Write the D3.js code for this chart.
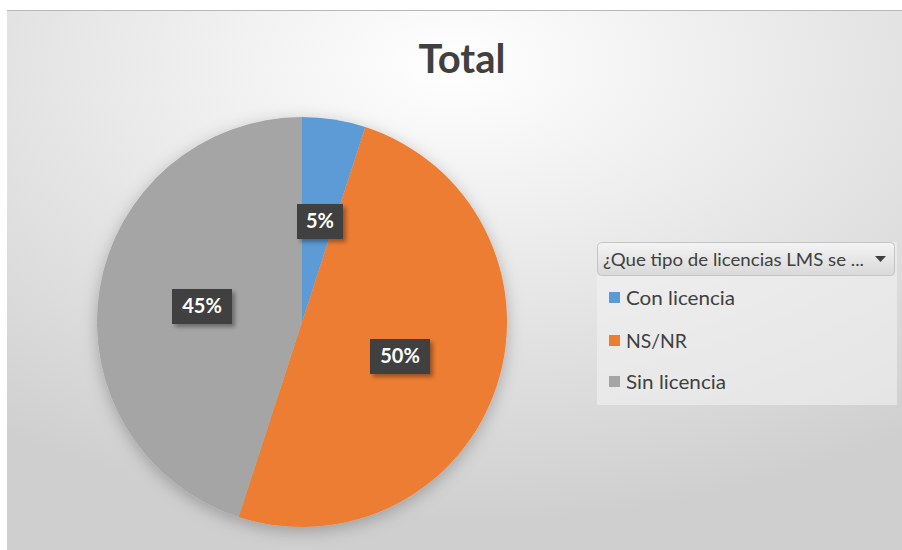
<!DOCTYPE html>
<html><head><meta charset="utf-8">
<script src="https://cdn.jsdelivr.net/npm/d3@7"></script>
<style>body{margin:0;background:#fff;}svg{display:block;}</style>
</head><body>
<svg id="c" width="902" height="550"></svg>
<script>
const categories = ["Con licencia", "NS/NR", "Sin licencia"];
const values = [5, 50, 45];
const labels = ["5%", "50%", "45%"];
const colors = ["#5b9bd5", "#ed7d31", "#a5a5a5"];
const legendTitle = "¿Que tipo de licencias LMS se ...";
const title = "Total";

const svg = d3.select("#c");
const defs = svg.append("defs");
const bg = defs.append("radialGradient").attr("id","bg").attr("cx","0.5").attr("cy","0.1").attr("r","0.85");
bg.append("stop").attr("offset","0").attr("stop-color","#ffffff");
bg.append("stop").attr("offset","1").attr("stop-color","#cfcfcf");
const hd = defs.append("linearGradient").attr("id","hd").attr("x1",0).attr("y1",0).attr("x2",0).attr("y2",1);
hd.append("stop").attr("offset","0").attr("stop-color","#f4f4f4");
hd.append("stop").attr("offset","1").attr("stop-color","#d9d9d9");
const f = defs.append("filter").attr("id","sh").attr("x","-20%").attr("y","-20%").attr("width","150%").attr("height","150%");
f.append("feDropShadow").attr("dx",3).attr("dy",3).attr("stdDeviation",2).attr("flood-color","#000").attr("flood-opacity",0.35);
const ps = defs.append("filter").attr("id","psh").attr("x","-20%").attr("y","-20%").attr("width","140%").attr("height","140%");
ps.append("feDropShadow").attr("dx",0).attr("dy",4).attr("stdDeviation",8).attr("flood-color","#000").attr("flood-opacity",0.25);

svg.append("rect").attr("x",7).attr("y",10).attr("width",895).attr("height",540).attr("fill","url(#bg)");
svg.append("line").attr("x1",7).attr("x2",902).attr("y1",10.5).attr("y2",10.5).attr("stroke","#b8b8b8");

svg.append("text").attr("x",462).attr("y",73).attr("text-anchor","middle")
  .attr("font-family","Lato, 'Open Sans', sans-serif").attr("font-weight","bold").attr("font-size",40)
  .attr("fill","#404040").text(title);

const cx = 302, cy = 322, r = 205;
const pie = d3.pie().sort(null).value(d=>d)(values);
const arc = d3.arc().innerRadius(0).outerRadius(r);
const g = svg.append("g").attr("transform",`translate(${cx},${cy})`);
g.append("g").attr("filter","url(#psh)").selectAll("path").data(pie).join("path")
  .attr("d",arc).attr("fill",(d,i)=>colors[i]);

const labelPos = [[320,221],[400,356],[202,306]];
const lg = svg.append("g");
pie.forEach((d,i)=>{
  const [x,y] = labelPos[i];
  const w = labels[i].length===2 ? 46 : 60;
  lg.append("rect").attr("x",x-w/2).attr("y",y-17).attr("width",w).attr("height",35)
    .attr("fill","#404040").attr("filter","url(#sh)");
  lg.append("text").attr("x",x).attr("y",y+7).attr("text-anchor","middle")
    .attr("font-family","Lato, 'Open Sans', sans-serif").attr("font-weight","bold").attr("font-size",20)
    .attr("fill","#ffffff").text(labels[i]);
});

// legend
const itemWidths = [109, 61, 100];
const L = svg.append("g");
L.append("rect").attr("x",597).attr("y",242).attr("width",300).attr("height",163).attr("fill","#f2f2f2").attr("opacity",0.6);
L.append("rect").attr("x",597.5).attr("y",242.5).attr("width",297).attr("height",33).attr("rx",4)
  .attr("fill","url(#hd)").attr("stroke","#c4c4c4");
L.append("text").attr("x",603).attr("y",266).attr("font-family","Lato, 'Open Sans', sans-serif")
  .attr("font-size",17).attr("fill","#404040").attr("textLength",261).attr("lengthAdjust","spacingAndGlyphs").text(legendTitle);
L.append("path").attr("d","M875,256 L886,256 L880.5,262 Z").attr("fill","#404040");
categories.forEach((c,i)=>{
  const y = [298,341,382][i];
  L.append("rect").attr("x",609).attr("y",y-6).attr("width",11).attr("height",11).attr("fill",colors[i]);
  L.append("text").attr("x",626).attr("y",y+7).attr("font-family","Lato, 'Open Sans', sans-serif")
    .attr("font-size",20).attr("fill","#404040").attr("textLength",itemWidths[i]).attr("lengthAdjust","spacingAndGlyphs").text(c);
});
</script>
</body></html>
